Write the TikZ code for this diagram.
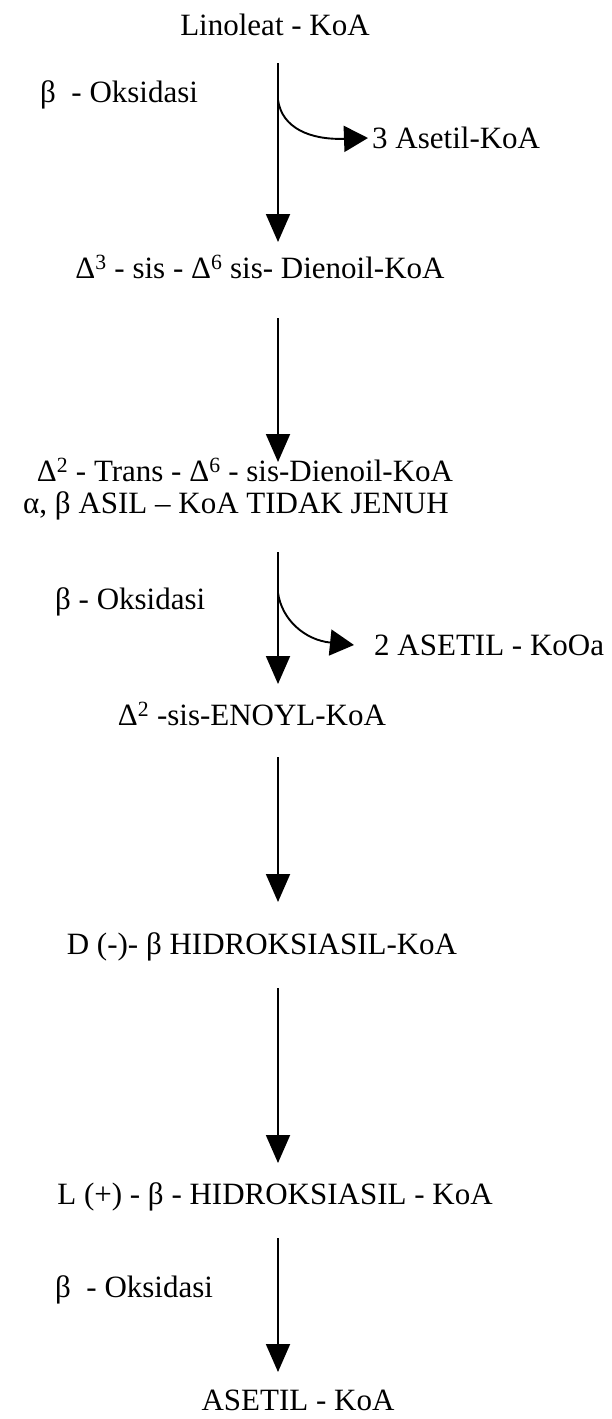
\documentclass[tikz,border=0pt]{standalone}
\usepackage{fontspec}
\setmainfont{Liberation Serif}
\usetikzlibrary{arrows.meta}
\tikzset{
  lbl/.style={inner sep=0pt, font=\fontsize{31}{36}\selectfont},
  flow/.style={line width=1.9pt, -{Triangle[length=28pt,width=24pt]}},
  side/.style={line width=1.9pt, -{Triangle[length=24pt,width=26pt]}},
}
\begin{document}
\begin{tikzpicture}[x=1pt,y=-1pt]
\useasboundingbox (0,0) rectangle (611,1419);
% compounds along the pathway
\node[lbl] (lin) at (275,25) {Linoleat - KoA};
\node[lbl] (die3) at (260,267) {Δ\textsuperscript{3} - sis - Δ\textsuperscript{6} sis- Dienoil-KoA};
\node[lbl] (tr2) at (245,470) {Δ\textsuperscript{2} - Trans - Δ\textsuperscript{6} - sis-Dienoil-KoA};
\node[lbl] (asil) at (236,506) {α, β ASIL – KoA TIDAK JENUH};
\node[lbl] (eno) at (252,714) {Δ\textsuperscript{2} -sis-ENOYL-KoA};
\node[lbl] (dh) at (262,947) {D (-)- β HIDROKSIASIL-KoA};
\node[lbl] (lh) at (275,1197) {L (+) - β - HIDROKSIASIL - KoA};
\node[lbl] (ac) at (298,1400) {ASETIL - KoA};
% by-products and step labels
\node[lbl, anchor=west] (p3) at (372,138) {3 Asetil-KoA};
\node[lbl, anchor=west] (p2) at (374,645) {2 ASETIL - KoOa};
\node[lbl, anchor=west] (ox1) at (40,95) {β \ - Oksidasi};
\node[lbl, anchor=west] (ox2) at (55,602) {β - Oksidasi};
\node[lbl, anchor=west] (ox3) at (55,1290) {β \ - Oksidasi};
% main arrows
\coordinate (a1s) at (278,63);  \coordinate (a1e) at (278,242);
\coordinate (a2s) at (278,318); \coordinate (a2e) at (278,462);
\coordinate (a3s) at (278,552); \coordinate (a3e) at (278,684);
\coordinate (a4s) at (278,757); \coordinate (a4e) at (278,902);
\coordinate (a5s) at (278,988); \coordinate (a5e) at (278,1163);
\coordinate (a6s) at (278,1238); \coordinate (a6e) at (278,1372);
\draw[flow] (a1s) -- (a1e);
\draw[flow] (a2s) -- (a2e);
\draw[flow] (a3s) -- (a3e);
\draw[flow] (a4s) -- (a4e);
\draw[flow] (a5s) -- (a5e);
\draw[flow] (a6s) -- (a6e);
% side branches releasing acetyl-CoA
\coordinate (b1) at (278,100);
\coordinate (b2) at (278,593);
\draw[side] (b1) .. controls (282,128) and (310,140) .. ([xshift=-4pt]p3.west);
\draw[side] (b2) .. controls (282,620) and (305,640) .. ([xshift=-20pt]p2.west);
\end{tikzpicture}
\end{document}
